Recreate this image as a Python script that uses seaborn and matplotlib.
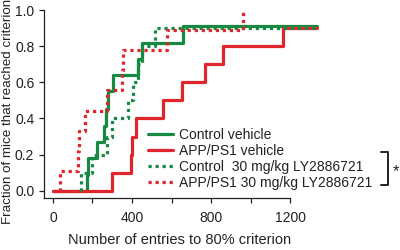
import matplotlib
matplotlib.use("Agg")
import matplotlib.pyplot as plt
import seaborn as sns
import pandas as pd
from matplotlib.lines import Line2D

# ---- data ----
labels = ["Control vehicle", "APP/PS1 vehicle",
          "Control  30 mg/kg LY2886721", "APP/PS1 30 mg/kg LY2886721"]

ctrl_veh_x = [0, 170, 179, 221, 258, 268, 276, 304, 432, 449, 660, 1335]
ctrl_veh_y = [0.0, 0.09, 0.18, 0.27, 0.36, 0.45, 0.55, 0.64, 0.73, 0.82, 0.91, 0.91]

app_veh_x = [0, 297, 393, 402, 420, 557, 652, 770, 860, 1165, 1335]
app_veh_y = [0.0, 0.1, 0.2, 0.3, 0.4, 0.5, 0.6, 0.7, 0.8, 0.9, 0.9]

ctrl_ly_x = [144, 144, 196, 272, 297, 381, 405, 432, 451, 516, 1335]
ctrl_ly_y = [0.0, 0.1, 0.2, 0.3, 0.4, 0.5, 0.6, 0.7, 0.8, 0.9, 0.9]

app_ly_x = [0, 35, 126, 130, 162, 272, 348, 356, 576, 963]
app_ly_y = [0.0, 0.11, 0.22, 0.33, 0.44, 0.56, 0.67, 0.78, 0.89, 1.0]

xtick_vals = [0, 200, 400, 600, 800, 1000, 1200]
xtick_labels = ["0", "", "400", "", "800", "", "1200"]
ytick_vals = [0.0, 0.2, 0.4, 0.6, 0.8, 1.0]
ytick_labels = ["0.0", "0.2", "0.4", "0.6", "0.8", "1.0"]

GREEN = "#168a43"
RED = "#e0252d"
DOT = (0, (1, 1.2))

sns.set_style("ticks")
plt.rcParams["font.family"] = ["Liberation Sans", "DejaVu Sans"]

fig = plt.figure(figsize=(4, 2.5), dpi=100)
ax = fig.add_axes([0.11, 0.208, 0.685, 0.752])

series = [
    (ctrl_veh_x, ctrl_veh_y, labels[0], GREEN, "-"),
    (app_veh_x, app_veh_y, labels[1], RED, "-"),
    (ctrl_ly_x, ctrl_ly_y, labels[2], GREEN, DOT),
    (app_ly_x, app_ly_y, labels[3], RED, DOT),
]
for xs, ys, lab, col, ls in series:
    df = pd.DataFrame({"entries": xs, "fraction": ys})
    sns.lineplot(data=df, x="entries", y="fraction", ax=ax, color=col,
                 label=lab, estimator=None, sort=False, errorbar=None,
                 drawstyle="steps-post", linewidth=2.3, linestyle=ls,
                 clip_on=False)

ax.set_xlim(-45, 1340)
ax.set_ylim(-0.04, 1.0)
ax.set_xticks(xtick_vals)
ax.set_xticklabels(xtick_labels)
ax.set_yticks(ytick_vals)
ax.set_yticklabels(ytick_labels)
sns.despine(ax=ax)
ax.spines["bottom"].set_bounds(-45, 1200)
for s in ("left", "bottom"):
    ax.spines[s].set_linewidth(0.9)
    ax.spines[s].set_color("#222222")
ax.tick_params(axis="both", length=3.5, width=0.9, color="#222222",
               labelsize=10, labelcolor="#222222")
ax.tick_params(axis="x", pad=6)
ax.tick_params(axis="y", pad=3.5)

ax.set_xlabel("Number of entries to 80% criterion", fontsize=10.5, color="#222222")
ax.set_ylabel("Fraction of mice that reached criterion", fontsize=9.6, color="#222222")
ax.xaxis.set_label_coords(0.496, -0.186)
ax.xaxis.label.set_va("top")
ax.yaxis.set_label_coords(-0.108, 0.46)

h, l = ax.get_legend_handles_labels()
ax.legend(h, l, loc="upper left", bbox_to_anchor=(148 / 400, 1 - 128 / 250),
          bbox_transform=fig.transFigure, frameon=False, fontsize=10,
          borderpad=0, borderaxespad=0, handlelength=1.8, handletextpad=0.4,
          labelspacing=0.15, labelcolor="#222222")

# significance bracket
bx0, bx1 = 381 / 400, 388 / 400
by0, by1 = 1 - 152 / 250, 1 - 185 / 250
fig.add_artist(Line2D([bx0, bx1, bx1, bx0], [by0, by0, by1, by1],
                      transform=fig.transFigure, color="#222222", lw=1.4))
fig.text(396 / 400, 1 - 172 / 250, "*", fontsize=12, ha="center", va="center",
         color="#222222")

fig.savefig("out.png", dpi=100)
